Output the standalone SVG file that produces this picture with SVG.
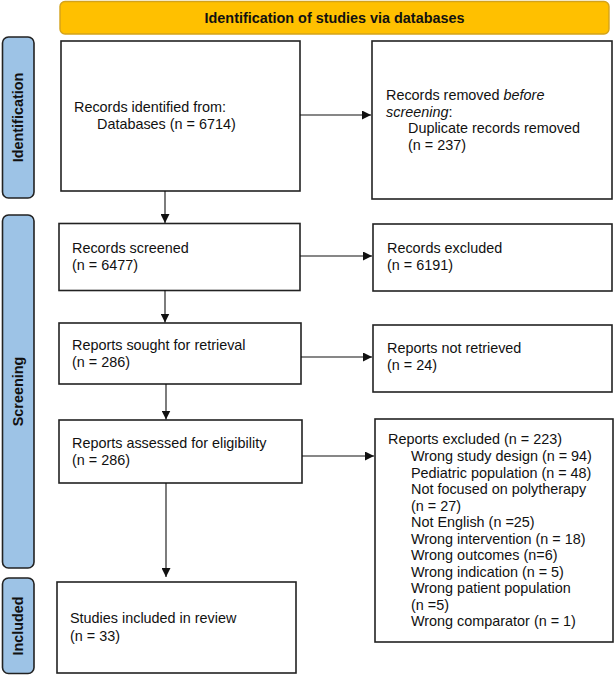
<svg xmlns="http://www.w3.org/2000/svg" width="614" height="675" viewBox="0 0 614 675">
<style>
text{font-family:"Liberation Sans",Arial,sans-serif;font-size:14.4px;fill:#111}
.box{fill:#fff;stroke:#222;stroke-width:1.6}
.tab{fill:#9DC3E6;stroke:#222;stroke-width:1.6}
.tabt{font-weight:bold;text-anchor:middle}
.conn{stroke:#111;stroke-width:1.1;fill:none}
</style>
<defs>
<marker id="ah" markerUnits="userSpaceOnUse" markerWidth="9" markerHeight="9" refX="9" refY="4.5" orient="auto" viewBox="0 0 9 9">
<path d="M0,0 L9,4.5 L0,9 z" fill="#111"/>
</marker>
</defs>
<g id="banner">
<rect x="60" y="1.5" width="549" height="32.5" rx="5" fill="#FFC000" stroke="#D4A21A" stroke-width="1.4"/>
<text x="334.5" y="22.5" font-weight="bold" text-anchor="middle">Identification of studies via databases</text>
</g>
<g id="tab-identification">
<rect class="tab" x="2.5" y="37" width="31.5" height="161" rx="6"/>
<text class="tabt" transform="translate(23,117.5) rotate(-90)">Identification</text>
</g>
<g id="tab-screening">
<rect class="tab" x="2.5" y="215" width="31.5" height="353" rx="6"/>
<text class="tabt" transform="translate(23,391.5) rotate(-90)">Screening</text>
</g>
<g id="tab-included">
<rect class="tab" x="2.5" y="578" width="31.5" height="95.5" rx="6"/>
<text class="tabt" transform="translate(23,626) rotate(-90)">Included</text>
</g>
<g id="records-identified">
<rect class="box" x="61" y="41" width="239" height="150"/>
<text x="74" y="112">Records identified from:</text>
<text x="97" y="128.5">Databases (n = 6714)</text>
</g>
<g id="records-removed">
<rect class="box" x="372" y="41" width="240" height="158"/>
<text x="386" y="100">Records removed <tspan font-style="italic">before</tspan></text>
<text x="386" y="116.5"><tspan font-style="italic">screening</tspan>:</text>
<text x="408" y="133">Duplicate records removed</text>
<text x="408" y="150">(n = 237)</text>
</g>
<g id="records-screened">
<rect class="box" x="59" y="223.5" width="241" height="67"/>
<text x="72" y="253">Records screened</text>
<text x="72" y="270">(n = 6477)</text>
</g>
<g id="records-excluded">
<rect class="box" x="373" y="224" width="239" height="67"/>
<text x="387" y="253">Records excluded</text>
<text x="387" y="270">(n = 6191)</text>
</g>
<g id="reports-sought">
<rect class="box" x="59" y="323" width="242" height="61"/>
<text x="72" y="350">Reports sought for retrieval</text>
<text x="72" y="367">(n = 286)</text>
</g>
<g id="reports-not-retrieved">
<rect class="box" x="373" y="325" width="239" height="67"/>
<text x="387" y="353">Reports not retrieved</text>
<text x="387" y="370">(n = 24)</text>
</g>
<g id="reports-assessed">
<rect class="box" x="59" y="420" width="243" height="63"/>
<text x="72" y="448">Reports assessed for eligibility</text>
<text x="72" y="465">(n = 286)</text>
</g>
<g id="reports-excluded">
<rect class="box" x="375" y="419" width="238" height="223"/>
<text x="388" y="444">Reports excluded (n = 223)</text>
<text x="411" y="461">Wrong study design (n = 94)</text>
<text x="411" y="477.5">Pediatric population (n = 48)</text>
<text x="411" y="494">Not focused on polytherapy</text>
<text x="411" y="510.5">(n = 27)</text>
<text x="411" y="527">Not English (n =25)</text>
<text x="411" y="543.5">Wrong intervention (n = 18)</text>
<text x="411" y="560">Wrong outcomes (n=6)</text>
<text x="411" y="576.5">Wrong indication (n = 5)</text>
<text x="411" y="593">Wrong patient population</text>
<text x="411" y="609.5">(n =5)</text>
<text x="411" y="626">Wrong comparator (n = 1)</text>
</g>
<g id="studies-included">
<rect class="box" x="57" y="582" width="239" height="91"/>
<text x="70" y="623">Studies included in review</text>
<text x="70" y="641">(n = 33)</text>
</g>
<g id="connectors">
<line class="conn" x1="300" y1="115" x2="371" y2="115" marker-end="url(#ah)"/>
<line class="conn" x1="165" y1="191" x2="165" y2="223" marker-end="url(#ah)"/>
<line class="conn" x1="300" y1="256" x2="372" y2="256" marker-end="url(#ah)"/>
<line class="conn" x1="165" y1="290" x2="165" y2="322.5" marker-end="url(#ah)"/>
<line class="conn" x1="301" y1="357" x2="372" y2="357" marker-end="url(#ah)"/>
<line class="conn" x1="166" y1="384" x2="166" y2="419.5" marker-end="url(#ah)"/>
<line class="conn" x1="302" y1="456" x2="374" y2="456" marker-end="url(#ah)"/>
<line class="conn" x1="166" y1="483" x2="166" y2="577" marker-end="url(#ah)"/>
</g>
</svg>
